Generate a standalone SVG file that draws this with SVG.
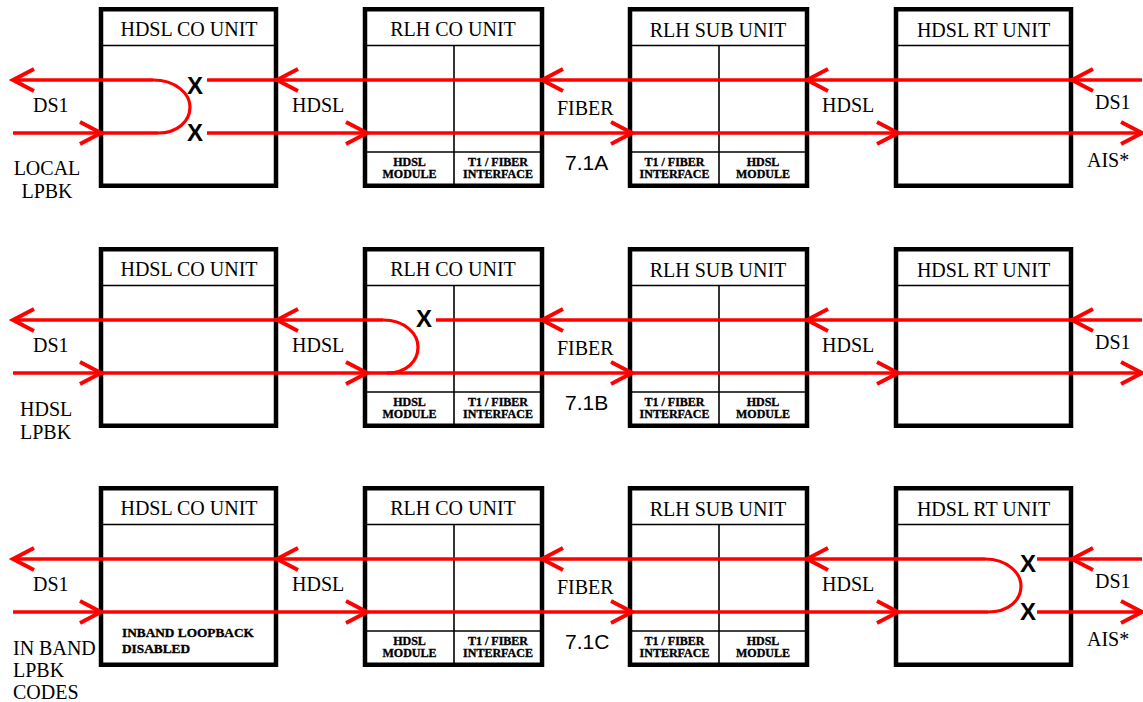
<svg xmlns="http://www.w3.org/2000/svg" width="1143" height="702" viewBox="0 0 1143 702">
<style>
.box{fill:#fff;stroke:#000;stroke-width:4.5}
.div{stroke:#000;stroke-width:1.6;fill:none}
.red{stroke:#f00;stroke-width:3.6;fill:none}
.loop{stroke:#f00;stroke-width:3.2;fill:none}
.ah{stroke:#f00;stroke-width:4;fill:none}
.t{font-family:"Liberation Serif","Times New Roman",serif;font-size:20px;fill:#000}
.tc{text-anchor:middle}
.s{font-family:"Liberation Serif","Times New Roman",serif;font-size:12px;font-weight:bold;fill:#000;stroke:#000;stroke-width:0.35;text-anchor:middle}
.ib{font-family:"Liberation Serif","Times New Roman",serif;font-size:13.3px;font-weight:bold;fill:#000;stroke:#000;stroke-width:0.35}
.x{font-family:"Liberation Sans",Arial,sans-serif;font-size:24px;font-weight:bold;fill:#000;text-anchor:middle}
.n{font-family:"Liberation Sans",Arial,sans-serif;font-size:21px;fill:#000}
</style>
<defs>
<path id="al" class="ah" d="M21,-11 L0,0 L21,11"/>
<path id="ar" class="ah" d="M-21,-11 L0,0 L-21,11"/>
<g id="coUnit">
<rect class="box" x="101" y="9.25" width="175" height="176.5"/>
<line class="div" x1="103" y1="45.5" x2="274" y2="45.5"/>
</g>
<g id="rlhFrame">
<rect class="box" x="365" y="9.25" width="177" height="176.5"/>
<line class="div" x1="367" y1="45.5" x2="540" y2="45.5"/>
<line class="div" x1="367" y1="152" x2="540" y2="152"/>
<line class="div" x1="454" y1="45.5" x2="454" y2="184"/>
</g>
<g id="subFrame">
<rect class="box" x="630" y="9.25" width="177" height="176.5"/>
<line class="div" x1="632" y1="45.5" x2="805" y2="45.5"/>
<line class="div" x1="632" y1="152" x2="805" y2="152"/>
<line class="div" x1="719" y1="45.5" x2="719" y2="184"/>
</g>
<g id="rtUnit">
<rect class="box" x="896" y="9.25" width="175" height="176.5"/>
<line class="div" x1="898" y1="45.5" x2="1069" y2="45.5"/>
</g>
</defs>

<!-- ROW A -->
<g id="rowA">
<g id="a-hdsl-co"><use href="#coUnit"/><text class="t tc" x="189" y="36">HDSL CO UNIT</text></g>
<g id="a-rlh-co"><use href="#rlhFrame"/><text class="t tc" x="453" y="36">RLH CO UNIT</text>
<text class="s" x="409.5" y="166">HDSL</text><text class="s" x="409.5" y="178">MODULE</text>
<text class="s" x="498" y="166">T1 / FIBER</text><text class="s" x="498" y="178">INTERFACE</text></g>
<g id="a-rlh-sub"><use href="#subFrame"/><text class="t tc" x="718" y="37">RLH SUB UNIT</text>
<text class="s" x="674.5" y="166">T1 / FIBER</text><text class="s" x="674.5" y="178">INTERFACE</text>
<text class="s" x="763" y="166">HDSL</text><text class="s" x="763" y="178">MODULE</text></g>
<g id="a-hdsl-rt"><use href="#rtUnit"/><text class="t tc" x="983.5" y="37">HDSL RT UNIT</text></g>
<g id="a-connectors">
<path class="red" d="M13,80 H153"/>
<path class="loop" d="M153,80 C176,80 190,94 190,107 C190,121 178,133 158,133"/>
<path class="red" d="M13,133 H158"/>
<path class="red" d="M207,80 H1142"/>
<path class="red" d="M207,133 H1142"/>
<use href="#al" x="13" y="80"/><use href="#al" x="277" y="80"/><use href="#al" x="542" y="80"/><use href="#al" x="807" y="80"/><use href="#al" x="1072" y="80"/>
<use href="#ar" x="101" y="133"/><use href="#ar" x="367" y="133"/><use href="#ar" x="632" y="133"/><use href="#ar" x="898" y="133"/><use href="#ar" x="1142" y="133"/>
</g>
<g id="a-labels">
<text class="x" x="195" y="94">X</text><text class="x" x="195" y="141">X</text>
<text class="t" x="33" y="112">DS1</text>
<text class="t" x="292" y="112">HDSL</text>
<text class="t" x="557" y="115">FIBER</text>
<text class="t" x="822" y="112">HDSL</text>
<text class="t" x="1095" y="109">DS1</text>
<text class="n" x="565" y="170">7.1A</text>
<text class="t" x="1087" y="167">AIS*</text>
<text class="t tc" x="47" y="175">LOCAL</text>
<text class="t tc" x="47" y="198">LPBK</text>
</g>
</g>

<!-- ROW B -->
<g id="rowB" transform="translate(0,240)">
<g id="b-hdsl-co"><use href="#coUnit"/><text class="t tc" x="189" y="36">HDSL CO UNIT</text></g>
<g id="b-rlh-co"><use href="#rlhFrame"/><text class="t tc" x="453" y="36">RLH CO UNIT</text>
<text class="s" x="409.5" y="166">HDSL</text><text class="s" x="409.5" y="178">MODULE</text>
<text class="s" x="498" y="166">T1 / FIBER</text><text class="s" x="498" y="178">INTERFACE</text></g>
<g id="b-rlh-sub"><use href="#subFrame"/><text class="t tc" x="718" y="37">RLH SUB UNIT</text>
<text class="s" x="674.5" y="166">T1 / FIBER</text><text class="s" x="674.5" y="178">INTERFACE</text>
<text class="s" x="763" y="166">HDSL</text><text class="s" x="763" y="178">MODULE</text></g>
<g id="b-hdsl-rt"><use href="#rtUnit"/><text class="t tc" x="983.5" y="37">HDSL RT UNIT</text></g>
<g id="b-connectors">
<path class="red" d="M13,80 H383"/>
<path class="loop" d="M383,80 C405,80 418,94 418,107 C418,121 407,133 387,133"/>
<path class="red" d="M13,133 H1142"/>
<path class="red" d="M436,80 H1142"/>
<use href="#al" x="13" y="80"/><use href="#al" x="277" y="80"/><use href="#al" x="542" y="80"/><use href="#al" x="807" y="80"/><use href="#al" x="1072" y="80"/>
<use href="#ar" x="101" y="133"/><use href="#ar" x="367" y="133"/><use href="#ar" x="632" y="133"/><use href="#ar" x="898" y="133"/><use href="#ar" x="1142" y="133"/>
</g>
<g id="b-labels">
<text class="x" x="424" y="87">X</text>
<text class="t" x="33" y="112">DS1</text>
<text class="t" x="292" y="112">HDSL</text>
<text class="t" x="557" y="115">FIBER</text>
<text class="t" x="822" y="112">HDSL</text>
<text class="t" x="1095" y="109">DS1</text>
<text class="n" x="565" y="170">7.1B</text>
<text class="t" x="20" y="176">HDSL</text>
<text class="t" x="20" y="199">LPBK</text>
</g>
</g>

<!-- ROW C -->
<g id="rowC" transform="translate(0,479)">
<g id="c-hdsl-co"><use href="#coUnit"/><text class="t tc" x="189" y="36">HDSL CO UNIT</text>
<text class="ib" x="122" y="158">INBAND LOOPBACK</text><text class="ib" x="122" y="174">DISABLED</text></g>
<g id="c-rlh-co"><use href="#rlhFrame"/><text class="t tc" x="453" y="36">RLH CO UNIT</text>
<text class="s" x="409.5" y="166">HDSL</text><text class="s" x="409.5" y="178">MODULE</text>
<text class="s" x="498" y="166">T1 / FIBER</text><text class="s" x="498" y="178">INTERFACE</text></g>
<g id="c-rlh-sub"><use href="#subFrame"/><text class="t tc" x="718" y="37">RLH SUB UNIT</text>
<text class="s" x="674.5" y="166">T1 / FIBER</text><text class="s" x="674.5" y="178">INTERFACE</text>
<text class="s" x="763" y="166">HDSL</text><text class="s" x="763" y="178">MODULE</text></g>
<g id="c-hdsl-rt"><use href="#rtUnit"/><text class="t tc" x="983.5" y="37">HDSL RT UNIT</text></g>
<g id="c-connectors">
<path class="red" d="M13,80 H985"/>
<path class="loop" d="M985,80 C1007,80 1021,94 1021,107 C1021,121 1009,133 988,133"/>
<path class="red" d="M13,133 H988"/>
<path class="red" d="M1037,80 H1142"/>
<path class="red" d="M1037,133 H1142"/>
<use href="#al" x="13" y="80"/><use href="#al" x="277" y="80"/><use href="#al" x="542" y="80"/><use href="#al" x="807" y="80"/><use href="#al" x="1072" y="80"/>
<use href="#ar" x="101" y="133"/><use href="#ar" x="367" y="133"/><use href="#ar" x="632" y="133"/><use href="#ar" x="898" y="133"/><use href="#ar" x="1142" y="133"/>
</g>
<g id="c-labels">
<text class="x" x="1028" y="93">X</text><text class="x" x="1028" y="141">X</text>
<text class="t" x="33" y="112">DS1</text>
<text class="t" x="292" y="112">HDSL</text>
<text class="t" x="557" y="115">FIBER</text>
<text class="t" x="822" y="112">HDSL</text>
<text class="t" x="1095" y="109">DS1</text>
<text class="n" x="565" y="170">7.1C</text>
<text class="t" x="1087" y="167">AIS*</text>
<text class="t" x="13" y="176">IN BAND</text>
<text class="t" x="13" y="198">LPBK</text>
<text class="t" x="13" y="220">CODES</text>
</g>
</g>
</svg>
